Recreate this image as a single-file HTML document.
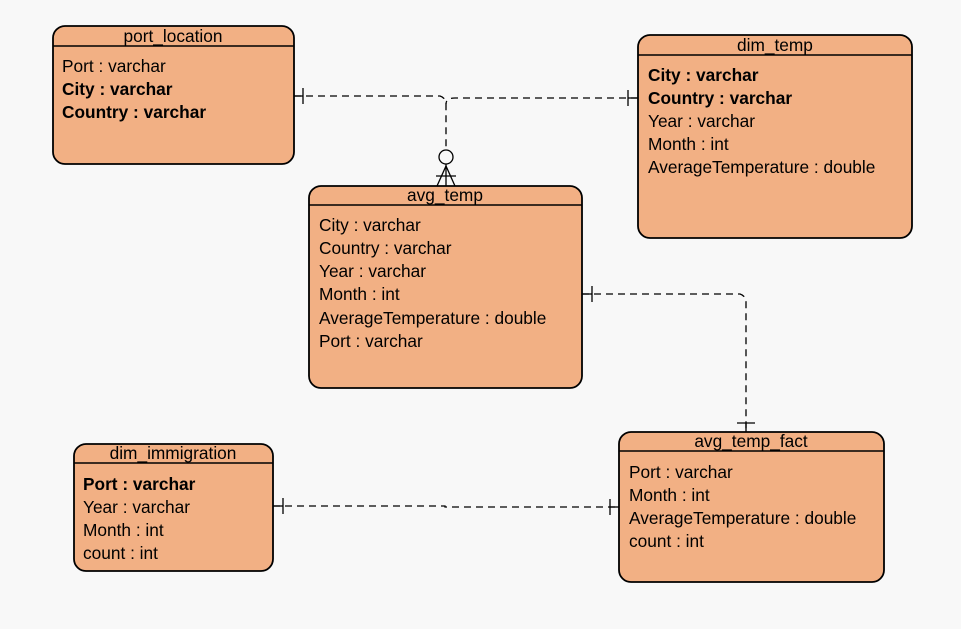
<!DOCTYPE html>
<html><head><meta charset="utf-8">
<style>
html,body{margin:0;padding:0;background:#f8f8f8;}
svg{display:block;}
text{font-family:"Liberation Sans",Arial,sans-serif;font-size:17.3px;fill:#000;}
.b{font-weight:bold;}
.h{text-anchor:middle;}
</style></head>
<body>
<svg width="961" height="629" viewBox="0 0 961 629" xmlns="http://www.w3.org/2000/svg">
<rect width="961" height="629" fill="#f8f8f8"/>
<g fill="#f2b084" stroke="#000" stroke-width="1.8">
  <rect x="53" y="26" width="241" height="138" rx="12"/>
  <rect x="638" y="35" width="274" height="203" rx="12"/>
  <rect x="309" y="186" width="273" height="202" rx="12"/>
  <rect x="74" y="444" width="199" height="127" rx="12"/>
  <rect x="619" y="432" width="265" height="150" rx="12"/>
</g>
<g stroke="#000" stroke-width="1.5">
  <line x1="53" y1="46" x2="294" y2="46"/>
  <line x1="638" y1="55" x2="912" y2="55"/>
  <line x1="309" y1="205" x2="582" y2="205"/>
  <line x1="74" y1="463" x2="273" y2="463"/>
  <line x1="619" y1="451" x2="884" y2="451"/>
</g>
<g fill="none" stroke="#000" stroke-width="1.3" stroke-dasharray="7,5">
  <path d="M294 96 L440 96 Q446 98 446 104 L446 150"/>
  <path d="M638 98 L455 98 Q446 98 446 104"/>
  <path d="M582 294 L740 294 Q746 296 746 302 L746 432"/>
  <path d="M273 506 L445 506 L445 507 L619 507"/>
</g>
<g fill="none" stroke="#000" stroke-width="1.3">
  <line x1="303" y1="88" x2="303" y2="104"/>
  <line x1="294" y1="96" x2="303" y2="96"/>
  <line x1="628" y1="90" x2="628" y2="106"/>
  <line x1="628" y1="98" x2="638" y2="98"/>
  <circle cx="446" cy="157" r="7"/>
  <line x1="446" y1="164" x2="446" y2="186"/>
  <line x1="436" y1="176" x2="456" y2="176"/>
  <line x1="446" y1="166" x2="437" y2="186"/>
  <line x1="446" y1="166" x2="455" y2="186"/>
  <line x1="592" y1="286" x2="592" y2="302"/>
  <line x1="582" y1="294" x2="592" y2="294"/>
  <line x1="737" y1="423" x2="755" y2="423"/>
  <line x1="746" y1="423" x2="746" y2="432"/>
  <line x1="283" y1="498" x2="283" y2="514"/>
  <line x1="273" y1="506" x2="283" y2="506"/>
  <line x1="610" y1="499" x2="610" y2="515"/>
  <line x1="610" y1="507" x2="619" y2="507"/>
</g>
<text class="h" x="173" y="42">port_location</text>
<text x="62" y="72">Port : varchar</text>
<text class="b" x="62" y="95">City : varchar</text>
<text class="b" x="62" y="118">Country : varchar</text>
<text class="h" x="775" y="51">dim_temp</text>
<text class="b" x="648" y="81">City : varchar</text>
<text class="b" x="648" y="104">Country : varchar</text>
<text x="648" y="127">Year : varchar</text>
<text x="648" y="150">Month : int</text>
<text x="648" y="173">AverageTemperature : double</text>
<text class="h" x="445" y="201">avg_temp</text>
<text x="319" y="231">City : varchar</text>
<text x="319" y="254">Country : varchar</text>
<text x="319" y="277">Year : varchar</text>
<text x="319" y="300">Month : int</text>
<text x="319" y="324">AverageTemperature : double</text>
<text x="319" y="347">Port : varchar</text>
<text class="h" x="173" y="459">dim_immigration</text>
<text class="b" x="83" y="490">Port : varchar</text>
<text x="83" y="513">Year : varchar</text>
<text x="83" y="536">Month : int</text>
<text x="83" y="559">count : int</text>
<text class="h" x="751" y="447">avg_temp_fact</text>
<text x="629" y="478">Port : varchar</text>
<text x="629" y="501">Month : int</text>
<text x="629" y="524">AverageTemperature : double</text>
<text x="629" y="547">count : int</text>
</svg>
</body></html>
